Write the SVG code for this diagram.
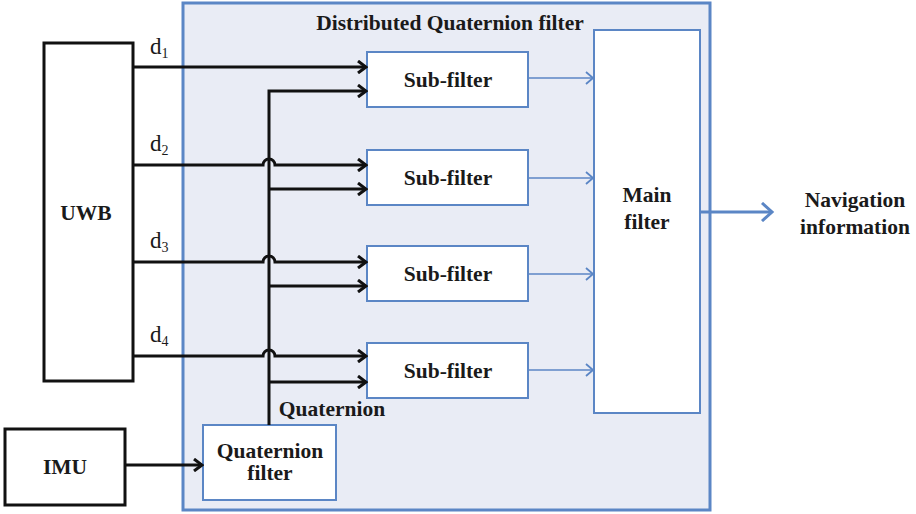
<svg xmlns="http://www.w3.org/2000/svg" width="916" height="514" viewBox="0 0 916 514">
<style>
.lbl{font-family:"Liberation Serif","Times New Roman",serif;font-weight:bold;font-size:21.5px;fill:#1a1a1a;text-anchor:middle}
.d{font-family:"Liberation Serif","Times New Roman",serif;font-size:23px;fill:#1a1a1a}
.sub{font-size:14px}
.blk{fill:#fff;stroke:#111;stroke-width:3}
.bbox{fill:#fff;stroke:#5b86c5;stroke-width:2}
.k{fill:none;stroke:#111;stroke-width:3}
.b{fill:none;stroke:#5b86c5;stroke-width:1.6}
</style>
<defs>
<marker id="ak" markerWidth="12" markerHeight="14" refX="10" refY="7" orient="auto" markerUnits="userSpaceOnUse">
<path d="M2,1 L10,7 L2,13" fill="none" stroke="#111" stroke-width="3"/>
</marker>
<marker id="ab" markerWidth="12" markerHeight="14" refX="10" refY="7" orient="auto" markerUnits="userSpaceOnUse">
<path d="M3,1 L10,7 L3,13" fill="none" stroke="#5b86c5" stroke-width="1.8"/>
</marker>
<marker id="ab2" markerWidth="16" markerHeight="20" refX="13" refY="10" orient="auto" markerUnits="userSpaceOnUse">
<path d="M3,1 L13,10 L3,19" fill="none" stroke="#5b86c5" stroke-width="3"/>
</marker>
</defs>
<rect width="916" height="514" fill="#fff"/>
<g id="outer">
<rect x="183" y="3" width="527" height="507" fill="#e9ecf5" stroke="#5b86c5" stroke-width="3"/>
<text class="lbl" x="450" y="30">Distributed Quaternion filter</text>
</g>
<g id="uwb"><rect class="blk" x="44" y="43" width="89" height="338"/><text class="lbl" x="86" y="220">UWB</text></g>
<g id="imu"><rect class="blk" x="5" y="429" width="120" height="76"/><text class="lbl" x="65" y="474">IMU</text></g>
<g id="qfilter"><rect class="bbox" x="203" y="425" width="133" height="75"/><text class="lbl" x="270" y="458">Quaternion</text><text class="lbl" x="270" y="480">filter</text></g>
<g id="sf1"><rect class="bbox" x="367" y="52" width="161" height="55"/><text class="lbl" x="448" y="87">Sub-filter</text></g>
<g id="sf2"><rect class="bbox" x="367" y="150" width="161" height="55"/><text class="lbl" x="448" y="185">Sub-filter</text></g>
<g id="sf3"><rect class="bbox" x="367" y="246" width="161" height="55"/><text class="lbl" x="448" y="281">Sub-filter</text></g>
<g id="sf4"><rect class="bbox" x="367" y="343" width="161" height="55"/><text class="lbl" x="448" y="378">Sub-filter</text></g>
<g id="main"><rect class="bbox" x="594" y="30" width="106" height="383"/><text class="lbl" x="647" y="202">Main</text><text class="lbl" x="647" y="229">filter</text></g>
<g id="nav"><text class="lbl" x="855" y="207">Navigation</text><text class="lbl" x="855" y="234">information</text></g>
<g id="labels">
<text class="d" x="150" y="54">d<tspan class="sub" dy="4">1</tspan></text>
<text class="d" x="150" y="151">d<tspan class="sub" dy="4">2</tspan></text>
<text class="d" x="150" y="248">d<tspan class="sub" dy="4">3</tspan></text>
<text class="d" x="150" y="342">d<tspan class="sub" dy="4">4</tspan></text>
<text class="lbl" x="332" y="416">Quaternion</text>
</g>
<g id="connectors">
<path class="k" d="M133,67 H366" marker-end="url(#ak)"/>
<path class="k" d="M133,165 H263 a6,6 0 0 1 12,0 H366" marker-end="url(#ak)"/>
<path class="k" d="M133,262 H263 a6,6 0 0 1 12,0 H366" marker-end="url(#ak)"/>
<path class="k" d="M133,356 H263 a6,6 0 0 1 12,0 H366" marker-end="url(#ak)"/>
<path class="k" d="M269,425 V91 H366" marker-end="url(#ak)"/>
<path class="k" d="M269,189 H366" marker-end="url(#ak)"/>
<path class="k" d="M269,286 H366" marker-end="url(#ak)"/>
<path class="k" d="M269,382 H366" marker-end="url(#ak)"/>
<path class="k" d="M125,465 H202" marker-end="url(#ak)"/>
<path class="b" d="M528,78 H593" marker-end="url(#ab)"/>
<path class="b" d="M528,178 H593" marker-end="url(#ab)"/>
<path class="b" d="M528,274 H593" marker-end="url(#ab)"/>
<path class="b" d="M528,370 H593" marker-end="url(#ab)"/>
<path d="M700,212 H772" fill="none" stroke="#5b86c5" stroke-width="3" marker-end="url(#ab2)"/>
</g>
</svg>
